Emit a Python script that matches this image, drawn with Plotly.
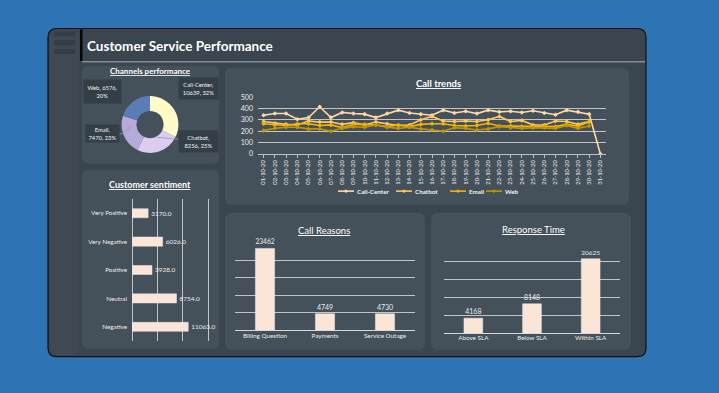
import plotly.graph_objects as go

W, H = 719, 393
FONT = "Lato"


def fx(x):
    return x / W


def fy(y):
    return 1 - y / H


# ---------------- data ----------------
channels = ["Call-Center", "Chatbot", "Email", "Web"]
channel_calls = [10639, 8256, 7470, 6576]
channel_pct = [32, 25, 23, 20]

dates = ["01-10-20", "02-10-20", "03-10-20", "04-10-20", "05-10-20", "06-10-20",
         "07-10-20", "08-10-20", "09-10-20", "10-10-20", "11-10-20", "12-10-20",
         "13-10-20", "14-10-20", "15-10-20", "16-10-20", "17-10-20", "18-10-20",
         "19-10-20", "20-10-20", "21-10-20", "22-10-20", "23-10-20", "24-10-20",
         "25-10-20", "26-10-20", "27-10-20", "28-10-20", "29-10-20", "30-10-20",
         "31-10-20"]
call_center = [340, 355, 355, 305, 320, 415, 320, 365, 355, 350, 320, 355, 385, 360, 350,
               340, 385, 360, 375, 355, 385, 370, 375, 365, 380, 360, 345, 385, 370, 350, 0]
chatbot = [285, 270, 260, 255, 290, 280, 280, 260, 275, 255, 280, 265, 250, 255, 300,
           330, 290, 285, 290, 285, 300, 330, 285, 295, 255, 255, 290, 285, 260, 285]
email = [265, 255, 250, 265, 265, 250, 255, 230, 260, 260, 255, 240, 255, 240, 260,
         265, 265, 250, 245, 250, 270, 245, 245, 240, 240, 245, 240, 260, 245, 280]
web = [205, 225, 235, 235, 220, 220, 200, 225, 240, 235, 255, 235, 225, 235, 220,
       210, 200, 230, 225, 210, 220, 240, 230, 225, 230, 230, 225, 250, 225, 245]
trend_names = ["Call-Center", "Chatbot", "Email", "Web"]
trend_values = [call_center, chatbot, email, web]
trend_colors = ["#FFD9A6", "#FFC85C", "#F5B400", "#C49400"]

sentiment_labels = ["Very Positive", "Very Negative", "Positive", "Neutral", "Negative"]
sentiment_values = [3170, 6026, 3928, 8754, 11063]

reason_labels = ["Billing Question", "Payments", "Service Outage"]
reason_values = [23462, 4749, 4730]

sla_labels = ["Above SLA", "Below SLA", "Within SLA"]
sla_values = [4168, 8148, 20625]

# ---------------- colours ----------------
PAGE = "#2E74B5"
PANEL = "#3A4550"
SIDEBAR = "#3E4953"
CARD = "#44505A"
BAR = "#FBE5D6"
GRID = "#C4C4C4"
TXT = "#EDEDED"


def rr(x0, y0, x1, y1, r):
    return (f"M {fx(x0 + r)},{fy(y0)} L {fx(x1 - r)},{fy(y0)} "
            f"Q {fx(x1)},{fy(y0)} {fx(x1)},{fy(y0 + r)} L {fx(x1)},{fy(y1 - r)} "
            f"Q {fx(x1)},{fy(y1)} {fx(x1 - r)},{fy(y1)} L {fx(x0 + r)},{fy(y1)} "
            f"Q {fx(x0)},{fy(y1)} {fx(x0)},{fy(y1 - r)} L {fx(x0)},{fy(y0 + r)} "
            f"Q {fx(x0)},{fy(y0)} {fx(x0 + r)},{fy(y0)} Z")


shapes = []
# dashboard panel
shapes.append(dict(type="path", path=rr(48, 24, 646, 359, 9), xref="paper", yref="paper",
                   fillcolor=PANEL, line=dict(color="#111111", width=1.2), layer="below"))
# sidebar
shapes.append(dict(type="path", path=rr(50, 26, 79, 357, 7), xref="paper", yref="paper",
                   fillcolor=SIDEBAR, line=dict(width=0), layer="below"))
for y0, y1 in [(27, 32), (36, 41), (45, 50)]:
    shapes.append(dict(type="rect", x0=fx(54), x1=fx(75), y0=fy(y1), y1=fy(y0),
                       xref="paper", yref="paper", fillcolor="#323D46",
                       line=dict(width=0), layer="below"))
# title bar
shapes.append(dict(type="rect", x0=fx(80), x1=fx(82.5), y0=fy(57), y1=fy(25),
                   xref="paper", yref="paper", fillcolor="#050505", line=dict(width=0),
                   layer="below"))
shapes.append(dict(type="line", x0=fx(82), x1=fx(645), y0=fy(58), y1=fy(58),
                   xref="paper", yref="paper", line=dict(color="#A9AFB4", width=1),
                   layer="below"))
# cards
for (x0, y0, x1, y1) in [(82, 62, 219, 162), (82, 168, 219, 351), (225, 64, 629, 204),
                         (225, 212, 425, 352), (431, 212, 631, 352)]:
    shapes.append(dict(type="path", path=rr(x0, y0, x1, y1, 7), xref="paper", yref="paper",
                       fillcolor=CARD, line=dict(width=0), layer="below"))
# pie leader lines
shapes.append(dict(type="path", path=f"M {fx(117)},{fy(132)} L {fx(123)},{fy(131)} L {fx(131)},{fy(124)}",
                   xref="paper", yref="paper", line=dict(color="#9A9A9A", width=0.8)))
shapes.append(dict(type="line", x0=fx(157), y0=fy(135), x1=fx(178), y1=fy(137),
                   xref="paper", yref="paper", line=dict(color="#9A9A9A", width=0.8)))

fig = go.Figure()

# ---------------- donut ----------------
fig.add_trace(go.Pie(
    labels=channels, values=channel_calls, hole=0.48, sort=False, direction="clockwise",
    rotation=0, textinfo="none", showlegend=False,
    marker=dict(colors=["#FFFCC9", "#DCCDF0", "#B6AADA", "#5B7CB6"], line=dict(width=0)),
    domain=dict(x=[fx(121), fx(179)], y=[fy(151), fy(93)])))

# ---------------- call trends ----------------
for name, vals, col in zip(trend_names, trend_values, trend_colors):
    fig.add_trace(go.Scatter(
        x=dates[:len(vals)], y=vals, name=name, mode="lines+markers",
        line=dict(color=col, width=1.6), marker=dict(size=3.5, color=col, symbol="diamond"),
        showlegend=False, xaxis="x", yaxis="y"))

# ---------------- sentiment ----------------
fig.add_trace(go.Bar(
    x=sentiment_values, y=sentiment_labels, orientation="h", marker_color=BAR,
    text=[f"{v:.1f}" for v in sentiment_values], textposition="outside",
    textfont=dict(size=6.5, color=TXT, family=FONT), cliponaxis=False, showlegend=False,
    xaxis="x2", yaxis="y2"))

# ---------------- call reasons ----------------
fig.add_trace(go.Bar(
    x=reason_labels, y=reason_values, marker_color=BAR, text=reason_values,
    textposition="outside", textfont=dict(size=7, color=TXT, family=FONT),
    cliponaxis=False, showlegend=False, xaxis="x3", yaxis="y3"))

# ---------------- response time ----------------
fig.add_trace(go.Bar(
    x=sla_labels, y=sla_values, marker_color=BAR, text=sla_values,
    textposition="outside", textfont=dict(size=7, color=TXT, family=FONT),
    cliponaxis=False, showlegend=False, xaxis="x4", yaxis="y4"))

annotations = [
    dict(text="<b>Customer Service Performance</b>", x=fx(85), y=fy(42), xanchor="left",
         yanchor="middle", font=dict(size=13.5, color="#FFFFFF")),
    dict(text="<b><u>Channels performance</u></b>", x=fx(150), y=fy(67), font=dict(size=8, color="#FFFFFF")),
    dict(text="<b><u>Customer sentiment</u></b>", x=fx(150), y=fy(183), font=dict(size=9, color="#FFFFFF")),
    dict(text="<b><u>Call trends</u></b>", x=fx(438), y=fy(80), font=dict(size=9.5, color="#FFFFFF")),
    dict(text="<u>Call Reasons</u>", x=fx(324), y=fy(230), font=dict(size=9.5, color="#FFFFFF")),
    dict(text="<u>Response Time</u>", x=fx(533), y=fy(229), font=dict(size=9.5, color="#FFFFFF")),
]
pie_boxes = [(198, 85, 39, 21), (198, 139, 39, 21), (102, 131, 33, 17), (102, 88, 37, 23)]
pie_wrap_after_value = [False, False, False, True]
for (cx, cy, w, h), wrap, name, v, p in zip(pie_boxes, pie_wrap_after_value,
                                            channels, channel_calls, channel_pct):
    txt = f"{name}, {v},<br>{p}%" if wrap else f"{name},<br>{v}, {p}%"
    annotations.append(dict(
        text=txt, x=fx(cx), y=fy(cy), xanchor="center", yanchor="middle",
        width=w, height=h, bgcolor="#333E47", borderpad=0,
        font=dict(size=5.8, color="#F2F2F2")))

# manual legend for call trends
legend_x = [338, 396, 450, 486]
LEG_Y = 190
for lx, name, col in zip(legend_x, trend_names, trend_colors):
    shapes.append(dict(type="line", x0=fx(lx), x1=fx(lx + 16), y0=fy(LEG_Y), y1=fy(LEG_Y),
                       xref="paper", yref="paper", line=dict(color=col, width=1.6)))
    m = lx + 8
    shapes.append(dict(type="path",
                       path=f"M {fx(m - 2)},{fy(LEG_Y)} L {fx(m)},{fy(LEG_Y - 2)} L {fx(m + 2)},{fy(LEG_Y)} L {fx(m)},{fy(LEG_Y + 2)} Z",
                       xref="paper", yref="paper", fillcolor=col, line=dict(width=0)))
    annotations.append(dict(text=f"<b>{name}</b>", x=fx(lx + 17), y=fy(LEG_Y), xanchor="left",
                            yanchor="middle", font=dict(size=6.3, color="#F2F2F2")))

for a in annotations:
    a.update(xref="paper", yref="paper", showarrow=False)
    a.setdefault("xanchor", "center")
    a.setdefault("yanchor", "middle")

fig.update_layout(
    width=W, height=H, margin=dict(l=0, r=0, t=0, b=0),
    paper_bgcolor=PAGE, plot_bgcolor="rgba(0,0,0,0)",
    font=dict(family=FONT, color=TXT),
    shapes=shapes, annotations=annotations,
    bargap=0.68, showlegend=False,
    xaxis=dict(domain=[fx(258), fx(606)], anchor="y", type="category", range=[-0.5, 30.5],
               tickangle=-90, tickfont=dict(size=5.8, color=TXT, family=FONT),
               showline=True, linecolor="#BFBFBF", linewidth=1, ticks="outside", ticklen=3,
               tickcolor="#BFBFBF", showgrid=False),
    yaxis=dict(domain=[fy(152), fy(94)], anchor="x", range=[0, 500], dtick=100,
               gridcolor=GRID, gridwidth=1, zeroline=False, tickfont=dict(size=7, color=TXT, family=FONT),
               ticks="", ticklabelstandoff=4),
    xaxis2=dict(domain=[fx(132), fx(210.8)], anchor="y2", range=[0, 15500], dtick=5000,
                showgrid=True, gridcolor=GRID, zeroline=True, zerolinecolor=GRID, zerolinewidth=1,
                showticklabels=False),
    yaxis2=dict(domain=[fy(343), fy(198)], anchor="x2", type="category",
                autorange="reversed", tickfont=dict(size=6.3, color=TXT, family=FONT),
                showgrid=False, ticks="", ticklabelstandoff=4),
    xaxis3=dict(domain=[fx(235), fx(415)], anchor="y3", type="category",
                tickfont=dict(size=6.3, color=TXT, family=FONT), showgrid=False,
                showline=False, ticks=""),
    yaxis3=dict(domain=[fy(332), fy(243)], anchor="x3", range=[0, 25000], dtick=5000,
                gridcolor=GRID, zeroline=True, zerolinecolor="#D8D8D8", zerolinewidth=1.2,
                showticklabels=False),
    xaxis4=dict(domain=[fx(444), fx(620)], anchor="y4", type="category",
                tickfont=dict(size=6.3, color=TXT, family=FONT), showgrid=False,
                showline=False, ticks=""),
    yaxis4=dict(domain=[fy(335), fy(243)], anchor="x4", range=[0, 25000], dtick=5000,
                gridcolor=GRID, zeroline=True, zerolinecolor="#D8D8D8", zerolinewidth=1.2,
                showticklabels=False),
)

fig.write_html("out.html", config={"displayModeBar": False},
               post_script="document.body.style.margin='0px';")
